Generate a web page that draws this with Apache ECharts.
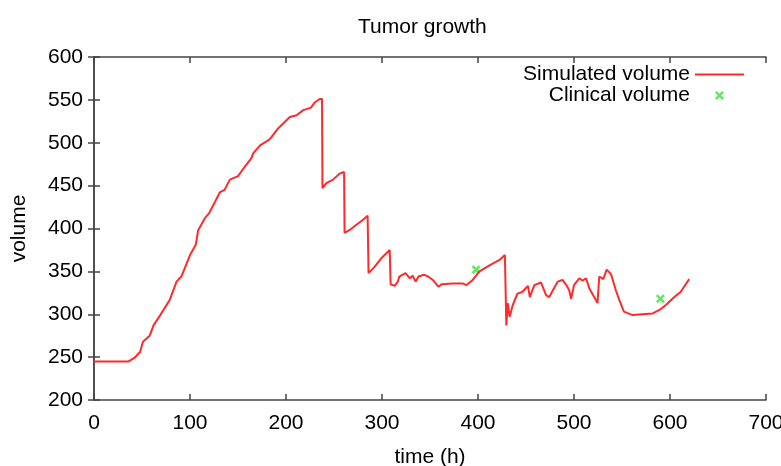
<!DOCTYPE html>
<html>
<head>
<meta charset="utf-8">
<script src="https://cdn.jsdelivr.net/npm/echarts@6/dist/echarts.min.js"></script>
<style>
  html, body { margin: 0; padding: 0; background: #fff; }
  #chart { width: 781px; height: 466px; }
</style>
</head>
<body>
<div id="chart"></div>
<script>
// simulated tumour volume over time
const simTime = [
  0, 36, 42, 48, 51, 58, 62, 69, 79, 86, 91, 100, 106, 108.5, 115.5, 120, 126, 131, 136, 141.5,
  150, 157, 164, 166, 173, 183, 192, 204, 211, 218, 226, 230, 235, 237.5, 238, 242, 249, 256, 260.5, 261,
  266, 273, 280, 285, 286, 292, 299, 308, 309, 313, 316.5, 318, 324.5, 329, 332, 335, 338, 344, 348, 353,
  359, 362, 374, 384, 388, 394.5, 401.5, 412, 422, 428, 429.5, 431, 433, 436, 441, 446, 452, 454, 458.7, 465.7,
  471, 474.3, 478, 483, 488, 492, 495, 497, 500, 505.5, 509, 512.5, 516, 521, 524.5, 526.3, 530.5, 534, 538.5, 543.6,
  547, 552, 561, 571, 582, 589, 596, 604.5, 611, 620
]
const simVolume = [
  245, 245, 249, 256, 268, 275, 287, 299, 317, 338, 344, 369, 381, 398, 412, 418, 431, 442, 445, 457,
  461, 472, 482, 488, 497, 504, 517, 530, 532, 538, 541, 547, 551, 551, 447, 453, 457, 464, 466, 395,
  398, 404, 410, 415, 348, 355, 365, 375, 335, 333, 338, 344, 348, 342, 345, 338, 344, 346, 344, 340,
  332, 335, 336, 336, 334, 340, 350, 357, 363, 369, 287, 313, 297, 310, 324, 326, 333, 320, 334, 337,
  322, 320, 328, 338, 340, 334, 328, 318, 334, 342, 339, 342, 330, 320, 313, 344, 341, 352, 347, 328,
  317, 303, 299, 300, 301, 305, 311, 320, 326, 341
]

// clinical measurements
const clinTime = [398, 590]
const clinVolume = [352, 318]

const xTicks = { min: 0, max: 700, interval: 100 }
const yTicks = { min: 200, max: 600, interval: 50 }

const font = 'Liberation Sans'
const frameColor = '#444'
const red = '#ff2b2b'
const green = '#33e633'
const crossPath = 'path://M0,2L2,0L10,8L8,10Z M8,0L10,2L2,10L0,8Z'

const zip = (xs, ys) => xs.map((x, i) => [x, ys[i]])

// mirrored axes on top/right carry only the inward ticks
const axisBase = (range, show) => ({
  type: 'value',
  min: range.min,
  max: range.max,
  interval: range.interval,
  splitLine: { show: false },
  axisLine: { show: true, lineStyle: { color: frameColor, width: 1.5 } },
  axisTick: { show: true, inside: true, length: 6, lineStyle: { color: frameColor, width: 1.5 } },
  axisLabel: { show: show, color: '#000', fontFamily: font, fontSize: 21 }
})

const chart = echarts.init(document.getElementById('chart'), null, { renderer: 'canvas' })

const option = {
  animation: false,
  backgroundColor: '#fff',
  title: {
    text: 'Tumor growth',
    left: 353,
    top: 12,
    textStyle: { fontFamily: font, fontSize: 21, fontWeight: 'normal', color: '#000' }
  },
  legend: {
    orient: 'vertical',
    align: 'right',
    right: 36,
    top: 64,
    padding: 0,
    itemGap: 0,
    itemWidth: 49,
    itemHeight: 9,
    textStyle: { fontFamily: font, fontSize: 21, color: '#000' },
    data: [
      // the line icon would carry a circle otherwise
      { name: 'Simulated volume', itemStyle: { opacity: 0 } },
      { name: 'Clinical volume', icon: crossPath, itemStyle: { color: green } }
    ]
  },
  // fixed plot box, do not let v6 shrink it to fit the axis names
  grid: { left: 94, right: 15, top: 57, bottom: 66, outerBoundsMode: 'none' },
  xAxis: [
    Object.assign(axisBase(xTicks, true), {
      position: 'bottom',
      name: 'time (h)',
      nameLocation: 'middle',
      nameGap: 47,
      nameTextStyle: { fontFamily: font, fontSize: 21, color: '#000' },
      axisLabel: { show: true, color: '#000', fontFamily: font, fontSize: 21, margin: 13 }
    }),
    Object.assign(axisBase(xTicks, false), { position: 'top' })
  ],
  yAxis: [
    Object.assign(axisBase(yTicks, true), {
      position: 'left',
      name: 'volume',
      nameLocation: 'middle',
      nameGap: 64,
      nameTextStyle: { fontFamily: font, fontSize: 21, color: '#000' },
      axisLabel: { show: true, color: '#000', fontFamily: font, fontSize: 21, margin: 11 }
    }),
    Object.assign(axisBase(yTicks, false), { position: 'right' })
  ],
  series: [
    {
      name: 'Simulated volume',
      type: 'line',
      data: zip(simTime, simVolume),
      symbol: 'none',
      lineStyle: { color: red, width: 2 },
      itemStyle: { color: red }
    },
    {
      name: 'Clinical volume',
      type: 'scatter',
      data: zip(clinTime, clinVolume),
      symbol: crossPath,
      symbolSize: 9,
      itemStyle: { color: green }
    }
  ]
}

chart.setOption(option)
</script>
</body>
</html>
